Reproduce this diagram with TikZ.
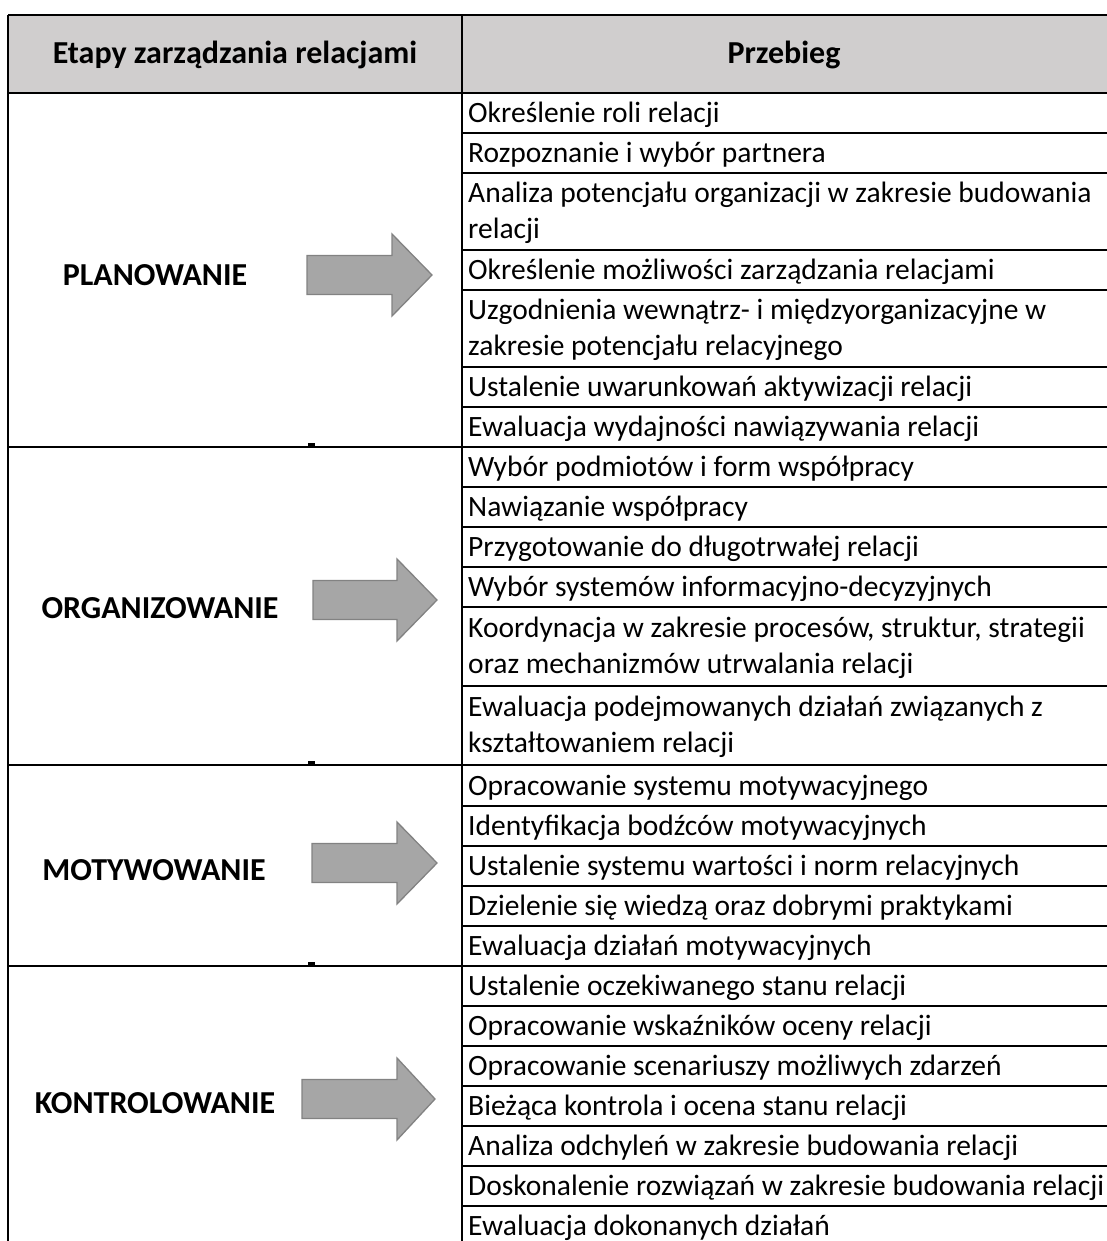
\documentclass[tikz,border=0pt]{standalone}
\usepackage{fontspec}
\setmainfont{Carlito}
\definecolor{headfill}{RGB}{208,206,206}
\definecolor{arrowfill}{RGB}{166,166,166}
\definecolor{arrowedge}{RGB}{130,130,130}
\begin{document}
\begin{tikzpicture}[x=1pt,y=-1pt,
  rule/.style={line width=2pt, black},
  item/.style={anchor=west, inner sep=0pt, align=left,
    font=\fontsize{29.5}{36}\selectfont},
  stage/.style={inner sep=0pt, font=\bfseries\fontsize{32}{38}\selectfont},
  headtext/.style={inner sep=0pt, font=\bfseries\fontsize{32}{38}\selectfont},
  blockarrow/.style={fill=arrowfill, draw=arrowedge, line width=1.3pt, line join=miter}]
\useasboundingbox (0,0) rectangle (1107,1241);

% header band
\fill[headfill] (8,15) rectangle (1107,93);
\node[headtext] (hstage) at (235,55) {Etapy zarządzania relacjami};
\node[headtext] (hflow)  at (784,55) {Przebieg};

% frame: top edge, header bottom, left edge, column divider
\draw[rule] (8,15) -- (1107,15);
\draw[rule] (8,93) -- (1107,93);
\draw[rule] (8,15) -- (8,1241);
\draw[rule] (462,15) -- (462,1241);

% section separators across both columns
\foreach \y in {447,765,966}
  \draw[rule] (8,\y) -- (1107,\y);

% row separators in the right column
\foreach \y in {133,173,250,290,367,407,
                487,527,567,607,686,
                806,846,886,926,
                1006,1046,1086,1126,1166,1206}
  \draw[rule] (462,\y) -- (1107,\y);

% small marks resting on the section separators
\foreach \y in {447,765,966}
  \fill (308,\y-4) rectangle (315,\y);

% --- PLANOWANIE ---
\node[item] (p1) at (468,115) {Określenie roli relacji};
\node[item] (p2) at (468,155) {Rozpoznanie i wybór partnera};
\node[item] (p3) at (468,213) {Analiza potencjału organizacji w zakresie budowania\\relacji};
\node[item] (p4) at (468,272) {Określenie możliwości zarządzania relacjami};
\node[item] (p5) at (468,330) {Uzgodnienia wewnątrz- i międzyorganizacyjne w\\zakresie potencjału relacyjnego};
\node[item] (p6) at (468,389) {Ustalenie uwarunkowań aktywizacji relacji};
\node[item] (p7) at (468,429) {Ewaluacja wydajności nawiązywania relacji};

% --- ORGANIZOWANIE ---
\node[item] (o1) at (468,469) {Wybór podmiotów i form współpracy};
\node[item] (o2) at (468,509) {Nawiązanie współpracy};
\node[item] (o3) at (468,549) {Przygotowanie do długotrwałej relacji};
\node[item] (o4) at (468,589) {Wybór systemów informacyjno-decyzyjnych};
\node[item] (o5) at (468,648) {Koordynacja w zakresie procesów, struktur, strategii\\oraz mechanizmów utrwalania relacji};
\node[item] (o6) at (468,727) {Ewaluacja podejmowanych działań związanych z\\kształtowaniem relacji};

% --- MOTYWOWANIE ---
\node[item] (m1) at (468,788) {Opracowanie systemu motywacyjnego};
\node[item] (m2) at (468,828) {Identyfikacja bodźców motywacyjnych};
\node[item] (m3) at (468,868) {Ustalenie systemu wartości i norm relacyjnych};
\node[item] (m4) at (468,908) {Dzielenie się wiedzą oraz dobrymi praktykami};
\node[item] (m5) at (468,948) {Ewaluacja działań motywacyjnych};

% --- KONTROLOWANIE ---
\node[item] (k1) at (468,988) {Ustalenie oczekiwanego stanu relacji};
\node[item] (k2) at (468,1028) {Opracowanie wskaźników oceny relacji};
\node[item] (k3) at (468,1068) {Opracowanie scenariuszy możliwych zdarzeń};
\node[item] (k4) at (468,1108) {Bieżąca kontrola i ocena stanu relacji};
\node[item] (k5) at (468,1148) {Analiza odchyleń w zakresie budowania relacji};
\node[item] (k6) at (468,1188) {Doskonalenie rozwiązań w zakresie budowania relacji};
\node[item] (k7) at (468,1228) {Ewaluacja dokonanych działań};

% stage names
\node[stage] (splan) at (155,275)  {PLANOWANIE};
\node[stage] (sorg)  at (160,608)  {ORGANIZOWANIE};
\node[stage] (smot)  at (154,870)  {MOTYWOWANIE};
\node[stage] (skon)  at (155,1103) {KONTROLOWANIE};

% block arrows: shaft left, head base, tip, centre line
\foreach \xl/\xb/\xt/\yc in {307/392/432/275, 313/397/437/600,
                             312/397/437/863, 302/397/435/1099}
  \draw[blockarrow] (\xl,\yc-19.5) -- (\xb,\yc-19.5) -- (\xb,\yc-41)
    -- (\xt,\yc) -- (\xb,\yc+41) -- (\xb,\yc+19.5) -- (\xl,\yc+19.5) -- cycle;
\end{tikzpicture}
\end{document}
